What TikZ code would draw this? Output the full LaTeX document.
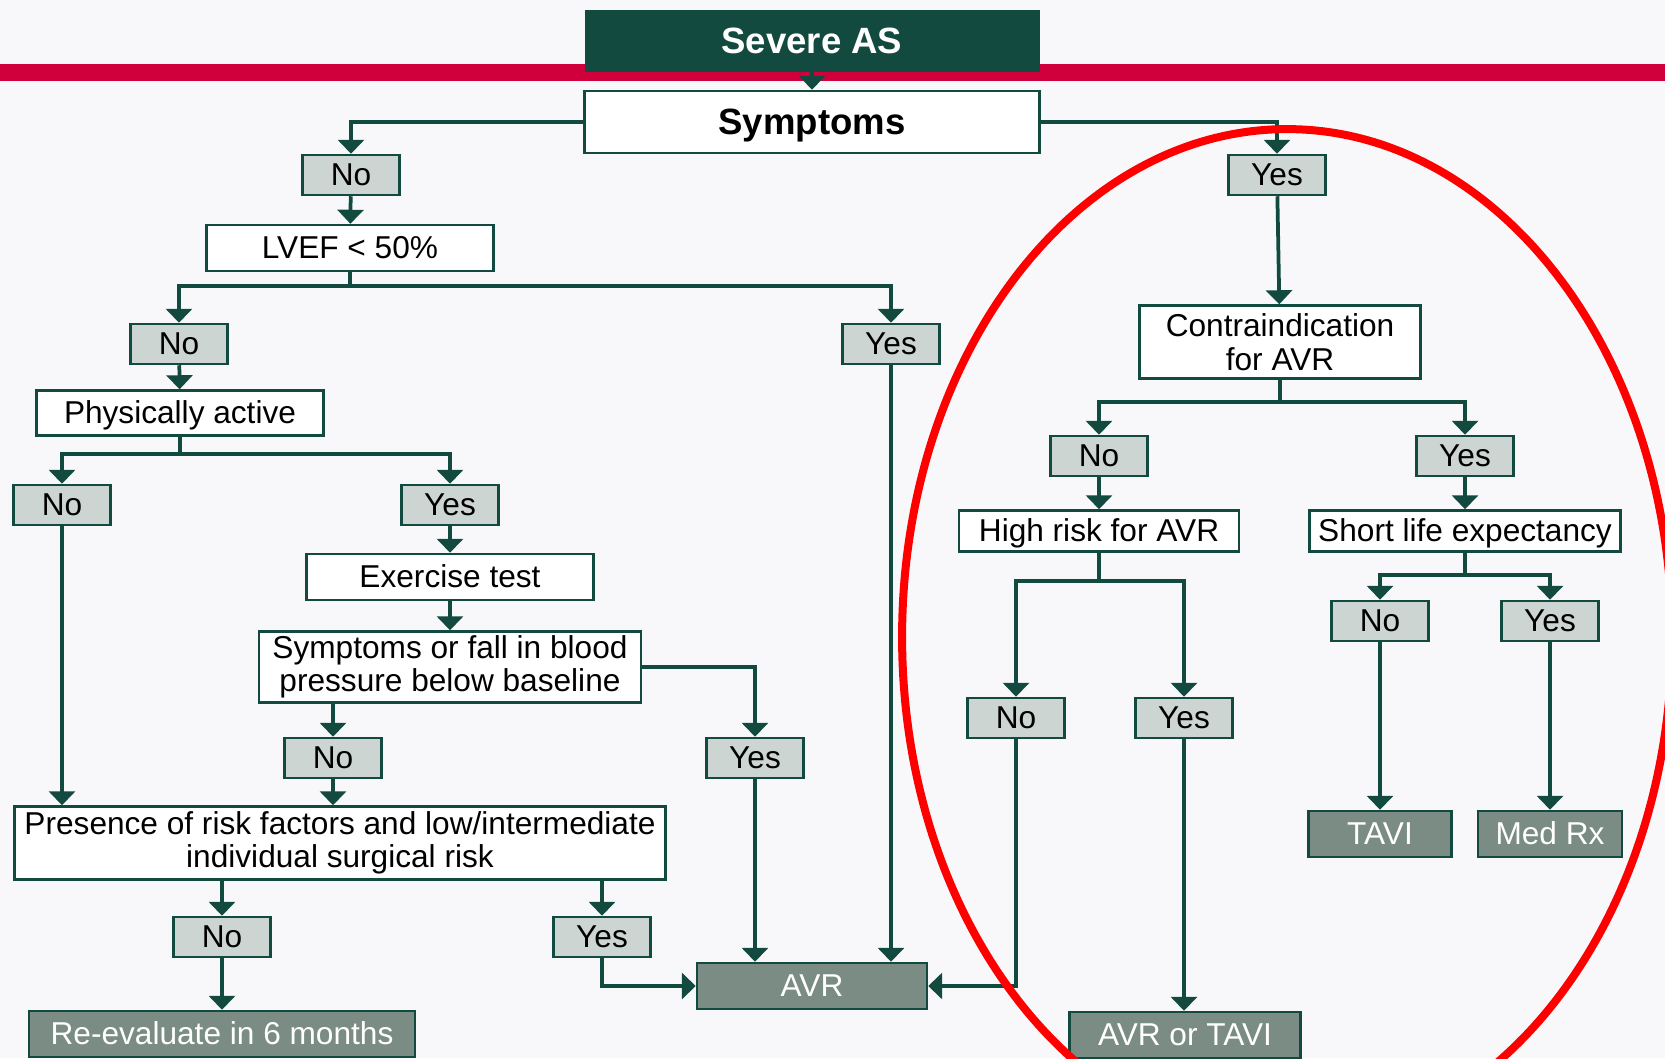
\documentclass[tikz,border=0pt]{standalone}
\usepackage{fontspec}
\setmainfont{Liberation Sans}
\usepackage{tikz}
\usetikzlibrary{positioning, arrows.meta}
\definecolor{asgreen}{HTML}{134A3F}
\definecolor{answerfill}{HTML}{CDD5D2}
\definecolor{resultfill}{HTML}{7A8C84}
\definecolor{bandred}{HTML}{D0003C}
\definecolor{pagebg}{HTML}{F8F8FB}
\definecolor{ringred}{HTML}{FF0000}
\tikzset{
  headnode/.style={
    fill=asgreen, draw=asgreen, text=white,
    minimum width=9.08cm, minimum height=1.22cm, inner sep=0pt,
    text height=18.8pt, text depth=4.4pt,
    font=\fontsize{20.8}{24}\selectfont\bfseries
  },
  questnode/.style={
    fill=white, draw=asgreen, text=black, line width=0.05cm,
    minimum height=0.92cm, inner sep=0pt, align=center,
    font=\fontsize{18}{19}\selectfont
  },
  oneline/.style={text height=16.3pt, text depth=3.8pt},
  answernode/.style={
    fill=answerfill, draw=asgreen, text=black, line width=0.05cm,
    minimum width=1.94cm, minimum height=0.8cm, inner sep=0pt,
    oneline, font=\fontsize{18}{19}\selectfont
  },
  resultnode/.style={
    fill=resultfill, draw=asgreen, text=white, line width=0.05cm,
    minimum height=0.92cm, inner sep=0pt,
    oneline, font=\fontsize{18}{19}\selectfont
  },
  flowarrow/.style={-{Triangle[width=0.52cm, length=0.28cm]}, line width=0.075cm, draw=asgreen}
}
\begin{document}
\begin{tikzpicture}[x=0.02cm, y=-0.02cm]
  \useasboundingbox (0,0) rectangle (1665,1058);
  \fill[pagebg] (0,0) rectangle (1665,1058);
  \fill[bandred] (0,64) rectangle (1665,81);

  \node[headnode] (severe) at (812,41) {Severe AS};
  \node[questnode, minimum width=9.1cm, minimum height=1.24cm, text height=18.8pt, text depth=4.4pt, font=\fontsize{20.8}{24}\selectfont\bfseries] (symptoms) at (812,122) {Symptoms};

  \node[answernode] (noSym)  at (351,175)  {No};
  \node[answernode] (yesSym) at (1277,175) {Yes};

  \node[questnode, oneline, minimum width=5.74cm] (lvef) at (350,248) {LVEF < 50\%};
  \node[answernode] (noLvef)  at (179,344) {No};
  \node[answernode] (yesLvef) at (891,344) {Yes};
  \node[questnode, oneline, minimum width=5.74cm, minimum height=0.9cm] (active) at (180,413) {Physically active};
  \node[answernode] (noAct)  at (62,505)  {No};
  \node[answernode] (yesAct) at (450,505) {Yes};
  \node[questnode, oneline, minimum width=5.74cm] (exercise) at (450,577) {Exercise test};
  \node[questnode, minimum width=7.64cm, minimum height=1.42cm] (fall) at (450,667) {Symptoms or fall in blood\\pressure below baseline};
  \node[answernode] (noFall)  at (333,758) {No};
  \node[answernode] (yesFall) at (755,758) {Yes};
  \node[questnode, minimum width=13.02cm, minimum height=1.46cm] (risk) at (340,843) {Presence of risk factors and low/intermediate\\individual surgical risk};
  \node[answernode] (noRisk)  at (222,937) {No};
  \node[answernode] (yesRisk) at (602,937) {Yes};
  \node[resultnode, minimum width=7.72cm] (reeval) at (222,1034) {Re-evaluate in 6 months};
  \node[resultnode, minimum width=4.6cm] (avr) at (812,986) {AVR};

  \node[questnode, minimum width=5.62cm, minimum height=1.46cm] (contra) at (1280,342) {Contraindication\\for AVR};
  \node[answernode] (noContra)  at (1099,456) {No};
  \node[answernode] (yesContra) at (1465,456) {Yes};
  \node[questnode, oneline, minimum width=5.6cm, minimum height=0.82cm] (highrisk) at (1099,531) {High risk for AVR};
  \node[questnode, oneline, minimum width=6.22cm, minimum height=0.82cm] (shortlife) at (1465,531) {Short life expectancy};
  \node[answernode] (noHigh)   at (1016,718) {No};
  \node[answernode] (yesHigh)  at (1184,718) {Yes};
  \node[answernode] (noShort)  at (1380,621) {No};
  \node[answernode] (yesShort) at (1550,621) {Yes};
  \node[resultnode, minimum width=4.62cm] (avrtavi) at (1185,1035) {AVR or TAVI};
  \node[resultnode, minimum width=2.86cm] (tavi)  at (1380,834) {TAVI};
  \node[resultnode, minimum width=2.88cm] (medrx) at (1550,834) {Med Rx};

  \draw[flowarrow] (severe) -- (symptoms);
  \draw[flowarrow] (symptoms.west) -| (noSym.north);
  \draw[flowarrow] (symptoms.east) -| (yesSym.north);

  \draw[flowarrow] (noSym) -- (lvef);
  \draw[flowarrow] (lvef.south) -- ++(0,14) -| (noLvef.north);
  \draw[flowarrow] (lvef.south) -- ++(0,14) -| (yesLvef.north);
  \draw[flowarrow] (noLvef) -- (active);
  \draw[flowarrow] (active.south) -- ++(0,17) -| (noAct.north);
  \draw[flowarrow] (active.south) -- ++(0,17) -| (yesAct.north);
  \draw[flowarrow] (noAct) -- (noAct |- risk.north);
  \draw[flowarrow] (yesAct) -- (exercise);
  \draw[flowarrow] (exercise) -- (fall);
  \draw[flowarrow] (fall.south -| noFall) -- (noFall.north);
  \draw[flowarrow] (fall.east) -| (yesFall.north);
  \draw[flowarrow] (noFall) -- (noFall |- risk.north);
  \draw[flowarrow] (yesFall) -- (yesFall |- avr.north);
  \draw[flowarrow] (yesLvef) -- (yesLvef |- avr.north);
  \draw[flowarrow] (risk.south -| noRisk) -- (noRisk.north);
  \draw[flowarrow] (risk.south -| yesRisk) -- (yesRisk.north);
  \draw[flowarrow] (noRisk) -- (reeval);
  \draw[flowarrow] (yesRisk.south) |- (avr.west);

  \draw[flowarrow] (yesSym) -- (contra);
  \draw[flowarrow] (contra.south) -- ++(0,22) -| (noContra.north);
  \draw[flowarrow] (contra.south) -- ++(0,22) -| (yesContra.north);
  \draw[flowarrow] (noContra) -- (highrisk);
  \draw[flowarrow] (yesContra) -- (shortlife);
  \draw[flowarrow] (highrisk.south) -- ++(0,28) -| (noHigh.north);
  \draw[flowarrow] (highrisk.south) -- ++(0,28) -| (yesHigh.north);
  \draw[flowarrow] (noHigh.south) |- (avr.east);
  \draw[flowarrow] (yesHigh) -- (yesHigh |- avrtavi.north);
  \draw[flowarrow] (shortlife.south) -- ++(0,22) -| (noShort.north);
  \draw[flowarrow] (shortlife.south) -- ++(0,22) -| (yesShort.north);
  \draw[flowarrow] (noShort) -- (tavi);
  \draw[flowarrow] (yesShort) -- (medrx);

  \draw[ringred, line width=0.16cm] (1287,637) ellipse [x radius=7.7cm, y radius=10.16cm];
\end{tikzpicture}
\end{document}
